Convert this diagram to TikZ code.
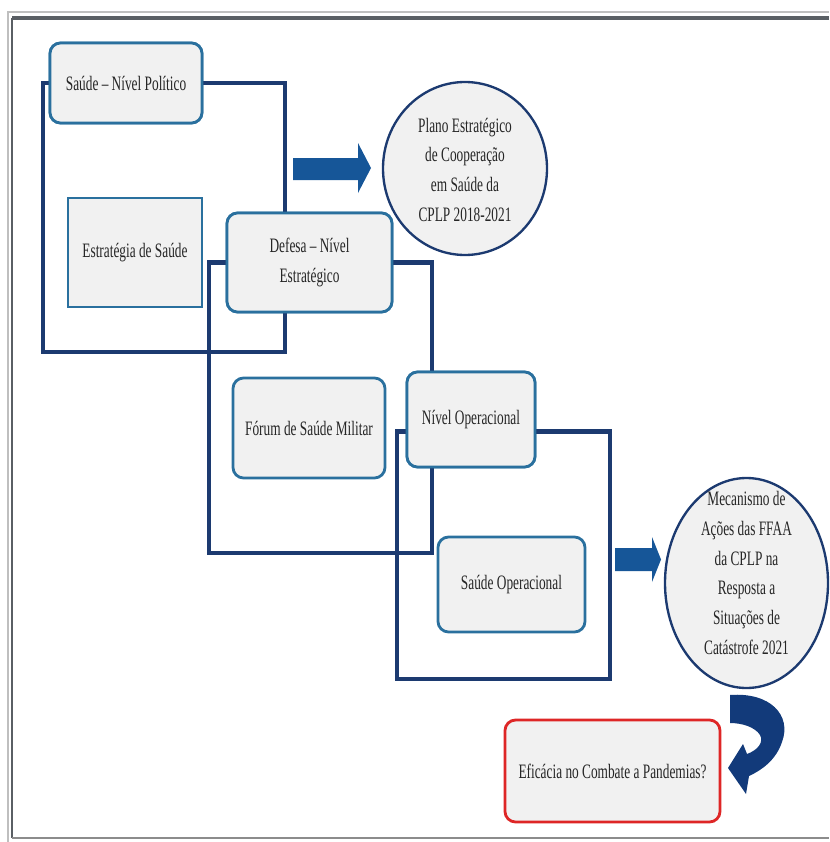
\documentclass[tikz,border=0pt]{standalone}
\usepackage{fontspec}
\setmainfont{Liberation Serif}[FakeStretch=0.65]
\usetikzlibrary{positioning}
\usetikzlibrary{calc}
\usetikzlibrary{shapes.geometric}
\definecolor{navy}{RGB}{28,58,112}
\definecolor{boxblue}{RGB}{42,112,158}
\definecolor{boxfill}{RGB}{241,241,241}
\definecolor{arrowblue}{RGB}{22,86,152}
\definecolor{darkarrow}{RGB}{18,58,122}
\definecolor{redline}{RGB}{222,38,38}
\definecolor{framegray}{RGB}{90,95,100}

\begin{document}
\begin{tikzpicture}[x=0.03cm,y=-0.03cm,
	every node/.style={font=\fontsize{17.5}{25.5}\selectfont,text=black!85,align=center},
	level/.style={draw=boxblue,line width=2.4pt,fill=boxfill,rounded corners=9pt,inner sep=2pt},
	sharpbox/.style={draw=boxblue,line width=2.4pt,fill=boxfill,inner sep=2pt},
	result/.style={ellipse,draw=navy,line width=2pt,fill=boxfill,inner sep=0pt},
	question/.style={draw=redline,line width=2.4pt,fill=boxfill,rounded corners=9pt},
	bracket/.style={draw=navy,line width=4.2pt},
	blockarrow/.style={fill=arrowblue}]
		\useasboundingbox (0,0) rectangle (829,842);
		% frame
		\draw [black!25,line width=1.2pt] (8,842) -- (8,12) -- (829,12);
		\draw [framegray,line width=2.6pt] (829,18) -- (12,18);
		\draw [framegray,line width=1.8pt] (12,18) -- (12,838);
		\draw [black!45,line width=1.5pt] (12,838) -- (829,838);

		\coordinate (b1sw) at (43,352);
		\coordinate (b1se) at (285,352);
		\coordinate (b2sw) at (209,553);
		\coordinate (b2se) at (432,553);
		\coordinate (b3sw) at (397,679);
		\coordinate (b3se) at (610,679);

		% brackets go first, the boxes cover them
		\path (126,83) node (politico) [level,minimum width=4.56cm,minimum height=2.4cm] {};
		\path (309.5,262.5) node (defesa) [level,minimum width=4.95cm,minimum height=2.97cm] {};
		\path (471,419.5) node (operacional) [level,minimum width=3.84cm,minimum height=2.85cm] {};
		\draw [bracket] (politico.west) -| (b1sw) -- (b1se) |- (politico.east);
		\draw [bracket] (defesa.west) -| (b2sw) -- (b2se) |- (defesa.east);
		\draw [bracket] ([yshift=-0.36cm]operacional.west) -| (b3sw) -- (b3se) |- ([yshift=-0.36cm]operacional.east);

		\node (politico) [level,minimum width=4.56cm,minimum height=2.4cm] at (126,83) {Saúde -- Nível Político};
		\node (estrategia) [sharpbox,minimum width=4.02cm,minimum height=3.27cm] at (135,252.5) {Estratégia de Saúde};
		\node (defesa) [level,minimum width=4.95cm,minimum height=2.97cm] at (309.5,262.5) {Defesa -- Nível\\Estratégico};
		\node (forum) [level,minimum width=4.56cm,minimum height=3cm] at (309,428) {Fórum de Saúde Militar};
		\node (operacional) [level,minimum width=3.84cm,minimum height=2.85cm] at (471,419.5) {Nível Operacional};
		\node (saudeop) [level,minimum width=4.41cm,minimum height=2.85cm] at (511.5,584.5) {Saúde Operacional};
		\node (plano) [result,minimum width=4.92cm,minimum height=5.19cm] at (465,168.5) {};
		\node (planotext) at ([yshift=-0.04cm]plano.center) {Plano Estratégico\\de Cooperação\\em Saúde da\\CPLP 2018-2021};
		\node (mecanismo) [result,minimum width=4.89cm,minimum height=6.3cm] at (746.5,583) {};
		\node (mecanismotext) at ([yshift=0.3cm]mecanismo.center) {Mecanismo de\\Ações das FFAA\\da CPLP na\\Resposta a\\Situações de\\Catástrofe 2021};
		\node (eficacia) [question,minimum width=6.45cm,minimum height=3.06cm] at (612.5,771) {Eficácia no Combate a Pandemias?};

		\fill [blockarrow] (293,158) -- (358,158) -- (358,143) -- (371,168) -- (358,193) -- (358,180) -- (293,180) -- cycle;
		\fill [blockarrow] (615,548) -- (652,548) -- (652,537) -- (661,559.5) -- (652,582) -- (652,571) -- (615,571) -- cycle;
		\fill [darkarrow] (730,695) .. controls (770,692) and (792,715) .. (782,742) .. controls (776,760) and (762,770) .. (749,776) -- (746,794) -- (728,768) -- (743,744) -- (747,754) .. controls (758,750) and (764,742) .. (760,735) .. controls (755,727) and (742,723) .. (730,723) -- cycle;
	\end{tikzpicture}
\end{document}
